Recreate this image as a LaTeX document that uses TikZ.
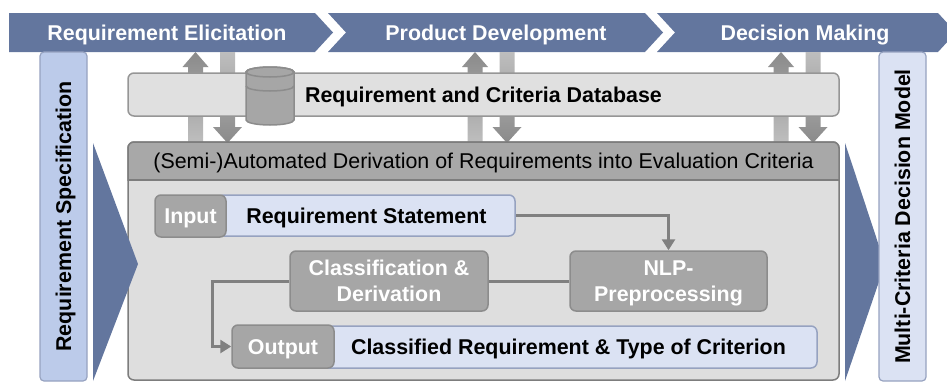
\documentclass[tikz,border=0pt]{standalone}
\usepackage{fontspec}
\setmainfont{Liberation Sans}
\usetikzlibrary{arrows.meta}
\definecolor{hblue}{RGB}{99,118,158}
\definecolor{lbone}{RGB}{188,203,234}
\definecolor{lbtwo}{RGB}{219,226,243}
\definecolor{lbbord}{RGB}{150,162,192}
\definecolor{gbody}{RGB}{222,222,222}
\definecolor{gstrip}{RGB}{168,168,168}
\definecolor{gborder}{RGB}{125,125,125}
\definecolor{dbfill}{RGB}{224,224,224}
\definecolor{dbbord}{RGB}{150,150,150}
\definecolor{ginner}{RGB}{166,166,166}
\definecolor{gibord}{RGB}{140,140,140}
\definecolor{adark}{RGB}{138,138,138}
\definecolor{alight}{RGB}{190,190,190}
\definecolor{conn}{RGB}{128,128,128}
\newcommand\fs{\fontsize{21.4pt}{25.5pt}\selectfont}
\newcommand\arrowUp[1]{\shade[top color=adark,bottom color=alight] ({#1-7.5},142) -- ({#1-7.5},67) -- ({#1-13},67) -- (#1,52) -- ({#1+13},67) -- ({#1+7.5},67) -- ({#1+7.5},142) -- cycle;}
\newcommand\arrowDown[1]{\shade[top color=alight,bottom color=adark] ({#1-7.5},52) -- ({#1-7.5},127) -- ({#1-14.5},127) -- (#1,143) -- ({#1+14.5},127) -- ({#1+7.5},127) -- ({#1+7.5},52) -- cycle;}
\tikzset{
  capc/.style={text height=15.3pt, text depth=0pt},
  captwo/.style={text height=40.8pt, text depth=0pt},
  hdrtext/.style={capc, text=white, font=\fs\bfseries, inner sep=0pt},
  sidebar/.style={capc, draw=lbbord, line width=1.2pt, rounded corners=4pt, rotate=90, minimum width=329pt, minimum height=47pt, inner sep=0pt, font=\fs\bfseries},
  mainbox/.style={fill=gbody, draw=gborder, line width=1.5pt, rounded corners=6pt, minimum width=711pt, minimum height=238pt, inner sep=0pt},
  dbbox/.style={capc, fill=dbfill, draw=dbbord, line width=1.5pt, rounded corners=6pt, minimum width=711pt, minimum height=43pt, inner sep=0pt, font=\fs\bfseries},
  gbox/.style={fill=ginner, draw=gibord, line width=1.5pt, rounded corners=6pt, text=white, font=\fs\bfseries, align=center, inner sep=0pt},
  bbox/.style={capc, fill=lbtwo, draw=lbbord, line width=1.5pt, rounded corners=6pt, font=\fs\bfseries, inner sep=0pt},
  conline/.style={draw=conn, line width=3pt},
  contip/.style={-{Triangle[width=13pt,length=11pt]}},
}
\begin{document}
\begin{tikzpicture}[x=1pt,y=-1pt]
\useasboundingbox (0,0) rectangle (947,381);
\clip (0,0) rectangle (947,381);
% header chevrons
\fill[hblue] (9,13) -- (315,13) -- (333,32.5) -- (315,52) -- (9,52) -- cycle;
\fill[hblue] (328,13) -- (645,13) -- (663,32.5) -- (645,52) -- (328,52) -- (346,32.5) -- cycle;
\fill[hblue] (657,13) -- (938,13) -- (956,32.5) -- (938,52) -- (657,52) -- (675,32.5) -- cycle;
\node[hdrtext] (elic) at (167,33) {Requirement Elicitation};
\node[hdrtext] (prod) at (496,33) {Product Development};
\node[hdrtext] (deci) at (805,33) {Decision Making};
% block arrows
\arrowUp{195.5}\arrowDown{227.5}
\arrowUp{475}\arrowDown{507}
\arrowUp{781}\arrowDown{813}
% database
\node[dbbox] (db) at (483.5,94.5) {Requirement and Criteria Database};
\draw[fill=ginner, draw=gibord, line width=1.5pt] (246,72) -- (246,120) arc (180:0:24 and 5) -- (294,72) arc (0:-180:24 and 5) -- cycle;
\draw[gibord, line width=1.5pt] (270,72) ellipse (24 and 5);
\draw[gibord, line width=1.5pt] (246,86) arc (180:0:24 and 5);
% main box
\node[mainbox] (main) at (483.5,261) {};
\begin{scope}
\clip (120,130) rectangle (850,180);
\draw[fill=gstrip, draw=gborder, line width=1.5pt, rounded corners=6pt] (128,142) rectangle (839,380);
\end{scope}
\draw[gborder, line width=1.5pt] (128,180) -- (839,180);
\node[capc, font=\fs, inner sep=0pt] (semi) at (483.5,161) {(Semi-)Automated Derivation of Requirements into Evaluation Criteria};
% side bars and chevrons
\fill[hblue] (93,143) -- (138,264) -- (93,381) -- cycle;
\fill[hblue] (845,143) -- (885,264) -- (845,381) -- cycle;
\node[sidebar, fill=lbone] (spec) at (63.5,216.5) {Requirement Specification};
\node[sidebar, fill=lbtwo] (mcdm) at (902.5,216.5) {Multi-Criteria Decision Model};
% inner process
\node[bbox, minimum width=297pt, minimum height=41pt] (stmt) at (366.5,215.5) {Requirement Statement};
\node[gbox, capc, minimum width=71pt, minimum height=42pt] (input) at (190.5,216) {Input};
\node[gbox, captwo, minimum width=197pt, minimum height=60pt] (nlp) at (668.5,281) {NLP-\\Preprocessing};
\node[gbox, captwo, minimum width=198pt, minimum height=60pt] (class) at (389,281) {Classification \&\\Derivation};
\node[bbox, minimum width=497pt, minimum height=42pt] (cres) at (568.5,347) {Classified Requirement \& Type of Criterion};
\node[gbox, capc, minimum width=102pt, minimum height=43pt] (output) at (283,346.5) {Output};
% connectors
\draw[conline, contip] (stmt.east) -| (nlp.north);
\draw[conline] (nlp.west) -- (class.east);
\draw[conline, contip] (class.west) -- ++(-77,0) |- (output.west);
\end{tikzpicture}
\end{document}
